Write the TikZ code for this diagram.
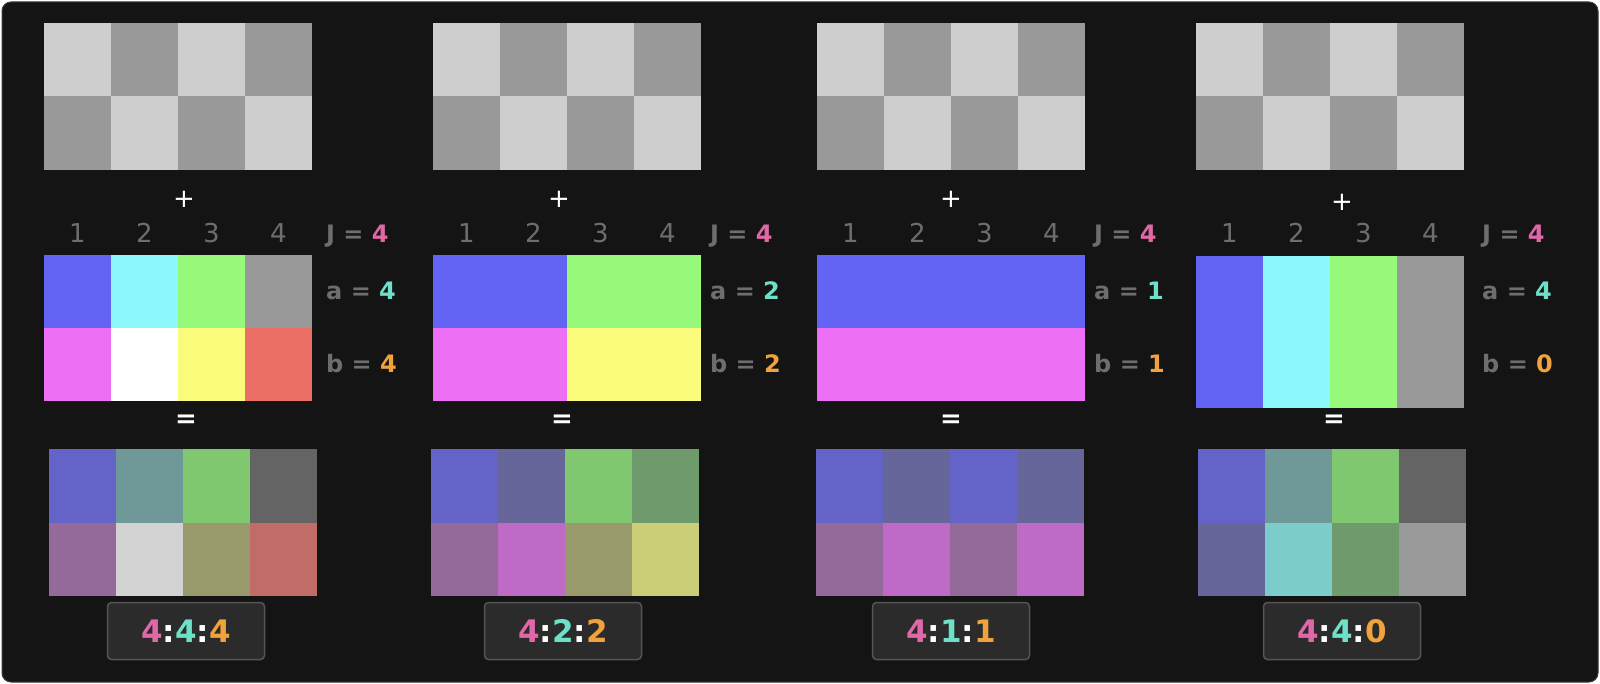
\documentclass[tikz,border=0pt]{standalone}
\usepackage{fontspec}
\setmainfont{DejaVu Sans}
\usepackage{xcolor}
\usepackage{tikz}
\usetikzlibrary{positioning}
% colours
\definecolor{bgdark}{HTML}{141414}
\definecolor{frameedge}{HTML}{3A3A3A}
\definecolor{chkL}{HTML}{CECECE}
\definecolor{chkD}{HTML}{999999}
\definecolor{mBlue}{HTML}{6464F4}
\definecolor{mCyan}{HTML}{8CF8FB}
\definecolor{mGreen}{HTML}{97F97A}
\definecolor{mGrey}{HTML}{999999}
\definecolor{mMag}{HTML}{ED6FF5}
\definecolor{mWhite}{HTML}{FFFFFF}
\definecolor{mYellow}{HTML}{FBFC7B}
\definecolor{mRed}{HTML}{EC6F66}
\definecolor{rBlueL}{HTML}{6464C8}
\definecolor{rBlueD}{HTML}{66669A}
\definecolor{rCyanD}{HTML}{6F9898}
\definecolor{rCyanL}{HTML}{7CCCCC}
\definecolor{rGreenL}{HTML}{7FC870}
\definecolor{rGreenD}{HTML}{6F9A6C}
\definecolor{rGreyD}{HTML}{646464}
\definecolor{rGreyL}{HTML}{9A9A9A}
\definecolor{rMagD}{HTML}{946A9A}
\definecolor{rMagL}{HTML}{C06AC8}
\definecolor{rWhiteL}{HTML}{D2D2D2}
\definecolor{rYelD}{HTML}{999A6C}
\definecolor{rYelL}{HTML}{CCCD78}
\definecolor{rRedL}{HTML}{C26C68}
\definecolor{lblgrey}{HTML}{6E6E6E}
\definecolor{pinkc}{HTML}{E068A8}
\definecolor{tealc}{HTML}{6EE0C8}
\definecolor{orangec}{HTML}{F0A23C}
\definecolor{boxfill}{HTML}{2B2B2B}
\definecolor{boxedge}{HTML}{555555}
\tikzset{
  lbl/.style = {text=lblgrey, anchor=base west, inner sep=0pt,
                font=\bfseries\fontsize{24}{28}\selectfont},
  colnum/.style = {text=lblgrey, anchor=base, inner sep=0pt,
                   font=\fontsize{26}{30}\selectfont},
  sign/.style = {text=white, inner sep=0pt,
                 font=\fontsize{26}{30}\selectfont},
  ratiobox/.style = {draw=boxedge, fill=boxfill, rounded corners=4pt,
                     line width=1.5pt, minimum width=157pt, minimum height=57pt,
                     font=\bfseries\fontsize{31}{36}\selectfont}
}
\newcommand{\rsep}{\textcolor{white}{:}}
\begin{document}
\begin{tikzpicture}[x=1pt,y=-1pt]
  \useasboundingbox (0,0) rectangle (1600,684);
  \fill[white] (0,0) rectangle (1600,684);
  \filldraw[fill=bgdark, draw=frameedge, line width=1pt, rounded corners=9pt] (2,2) rectangle (1598,682);

  % luma pattern
  \foreach \px in {44,433,817,1196}{
    \fill[chkD] (\px,23) rectangle ++(268,147);
    \foreach \c/\r in {0/0,2/0,1/1,3/1}
      \fill[chkL] (\px+67*\c,23+73.5*\r) rectangle ++(67,73.5);
  }

  % chroma samples
  \foreach \c/\t/\b in {0/mBlue/mMag,1/mCyan/mWhite,2/mGreen/mYellow,3/mGrey/mRed}{
    \fill[\t] (44+67*\c,255) rectangle ++(67,73);
    \fill[\b] (44+67*\c,328) rectangle ++(67,73);
  }
  \fill[mBlue] (433,255) rectangle ++(134,73);
  \fill[mGreen] (567,255) rectangle ++(134,73);
  \fill[mMag] (433,328) rectangle ++(134,73);
  \fill[mYellow] (567,328) rectangle ++(134,73);
  \fill[mBlue] (817,255) rectangle ++(268,73);
  \fill[mMag] (817,328) rectangle ++(268,73);
  \foreach \c/\t in {0/mBlue,1/mCyan,2/mGreen,3/mGrey}
    \fill[\t] (1196+67*\c,256) rectangle ++(67,152);

  % result
  \foreach \px/\tA/\tB/\tC/\tD/\bA/\bB/\bC/\bD in {
      49/rBlueL/rCyanD/rGreenL/rGreyD/rMagD/rWhiteL/rYelD/rRedL,
      431/rBlueL/rBlueD/rGreenL/rGreenD/rMagD/rMagL/rYelD/rYelL,
      816/rBlueL/rBlueD/rBlueL/rBlueD/rMagD/rMagL/rMagD/rMagL,
      1198/rBlueL/rCyanD/rGreenL/rGreyD/rBlueD/rCyanL/rGreenD/rGreyL}{
    \foreach \c/\t/\b in {0/\tA/\bA,1/\tB/\bB,2/\tC/\bC,3/\tD/\bD}{
      \fill[\t] (\px+67*\c,449) rectangle ++(67,73.5);
      \fill[\b] (\px+67*\c,522.5) rectangle ++(67,73.5);
    }
  }

  % labels, signs and ratios
  \foreach \i/\px/\lx/\plx/\ply/\eqx/\rx/\av/\bv in {
      1/44/326/184/199/186/186/4/4,
      2/433/710/559/199/562/563/2/2,
      3/817/1094/951/199/951/951/1/1,
      4/1196/1482/1342/202/1334/1342/4/0}{
    \node[sign] (plus\i) at (\plx,\ply) {+};
    \foreach \c in {1,...,4}
      \node[colnum] (n\i\c) at (\px+67*\c-33.5,243) {\c};
    \node[lbl] (J\i) at (\lx,243) {J = \textcolor{pinkc}{4}};
    \node[lbl] (a\i) at (\lx,300) {a = \textcolor{tealc}{\av}};
    \node[lbl] (b\i) at (\lx,372) {b = \textcolor{orangec}{\bv}};
    \node[sign, font=\bfseries\fontsize{26}{30}\selectfont] (eq\i) at (\eqx,421) {=};
    \node[ratiobox] (ratio\i) at (\rx,631)
      {\textcolor{pinkc}{4}\rsep\textcolor{tealc}{\av}\rsep\textcolor{orangec}{\bv}};
  }
\end{tikzpicture}
\end{document}
